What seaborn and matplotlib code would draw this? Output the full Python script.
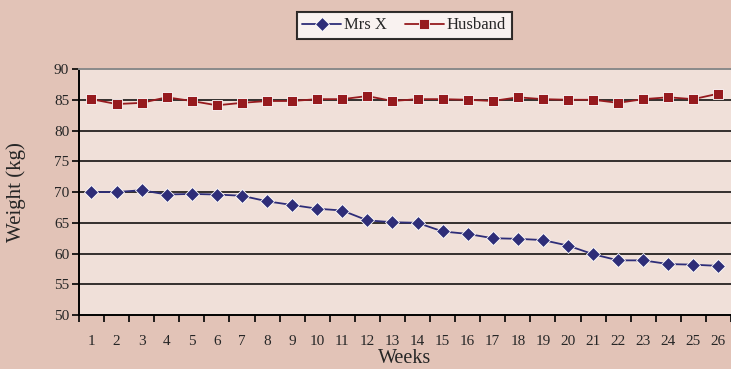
import numpy as np
import pandas as pd
import matplotlib.pyplot as plt
import seaborn as sns

weeks = list(range(1, 27))
mrs_x = [70.0, 70.0, 70.3, 69.6, 69.7, 69.6, 69.4, 68.5, 67.9, 67.3, 67.0, 65.4, 65.1,
         65.0, 63.6, 63.2, 62.5, 62.4, 62.2, 61.3, 59.9, 58.9, 58.9, 58.3, 58.2, 58.0]
husband = [85.1, 84.3, 84.5, 85.4, 84.8, 84.1, 84.5, 84.8, 84.8, 85.1, 85.1, 85.6, 84.8,
           85.1, 85.1, 85.0, 84.8, 85.4, 85.1, 85.0, 85.0, 84.5, 85.1, 85.4, 85.1, 86.0]
series_names = ['Mrs X', 'Husband']
y_ticks = [50, 55, 60, 65, 70, 75, 80, 85, 90]

df = pd.DataFrame({
    'week': weeks * 2,
    'weight': mrs_x + husband,
    'who': [series_names[0]] * len(weeks) + [series_names[1]] * len(weeks),
})

sns.set_style('white')
plt.rcParams['font.family'] = ['Liberation Serif', 'DejaVu Serif']

fig = plt.figure(figsize=(7.31, 3.69), dpi=100, facecolor='#E2C3B7')
ax = fig.add_axes([0.108, 0.146, 0.892, 0.667])
ax.set_facecolor('#F0E0D9')

for y in y_ticks[1:-1]:
    ax.axhline(y, color='black', lw=1.1, zorder=1)

sns.lineplot(data=df, x='week', y='weight', hue='who', style='who',
             palette={'Mrs X': '#2E2D78', 'Husband': '#961A1E'},
             markers={'Mrs X': 'D', 'Husband': 's'}, dashes=False,
             markersize=7.5, markeredgewidth=0.6, lw=1.3, ax=ax, zorder=3)

ax.set_xlim(0.5, 26.5)
ax.set_ylim(50, 90)
ax.set_yticks(y_ticks)
ax.set_xticks(weeks)
ax.set_xticks(np.arange(0.5, 27, 1), minor=True)
ax.tick_params(axis='x', which='major', length=0, pad=14, labelsize=11)
ax.tick_params(axis='x', which='minor', length=5, width=1.2, color='black', direction='out')
ax.tick_params(axis='y', length=5, width=1.2, color='black', direction='out', labelsize=11, pad=2)
ax.xaxis.set_ticks_position('bottom')
ax.yaxis.set_ticks_position('left')

for side in ['left', 'bottom']:
    ax.spines[side].set_color('black')
    ax.spines[side].set_linewidth(1.4)
ax.spines['top'].set_color('#8A8A8A')
ax.spines['top'].set_linewidth(1.4)
ax.spines['right'].set_visible(False)

ax.set_xlabel('Weeks', fontsize=14.5, labelpad=1)
ax.set_ylabel('Weight (kg)', fontsize=15, labelpad=20)

handles, labels = ax.get_legend_handles_labels()
leg = ax.legend(handles, labels, loc='center', bbox_to_anchor=(0.553, 0.931),
                bbox_transform=fig.transFigure, ncol=2, frameon=True, fancybox=False,
                fontsize=12, handlelength=2.3, handletextpad=0.2, columnspacing=1.1,
                borderpad=0.35, edgecolor='black')
leg.get_frame().set_linewidth(1.5)
leg.get_frame().set_facecolor('white')

fig.savefig('out.png', dpi=100, facecolor=fig.get_facecolor())
